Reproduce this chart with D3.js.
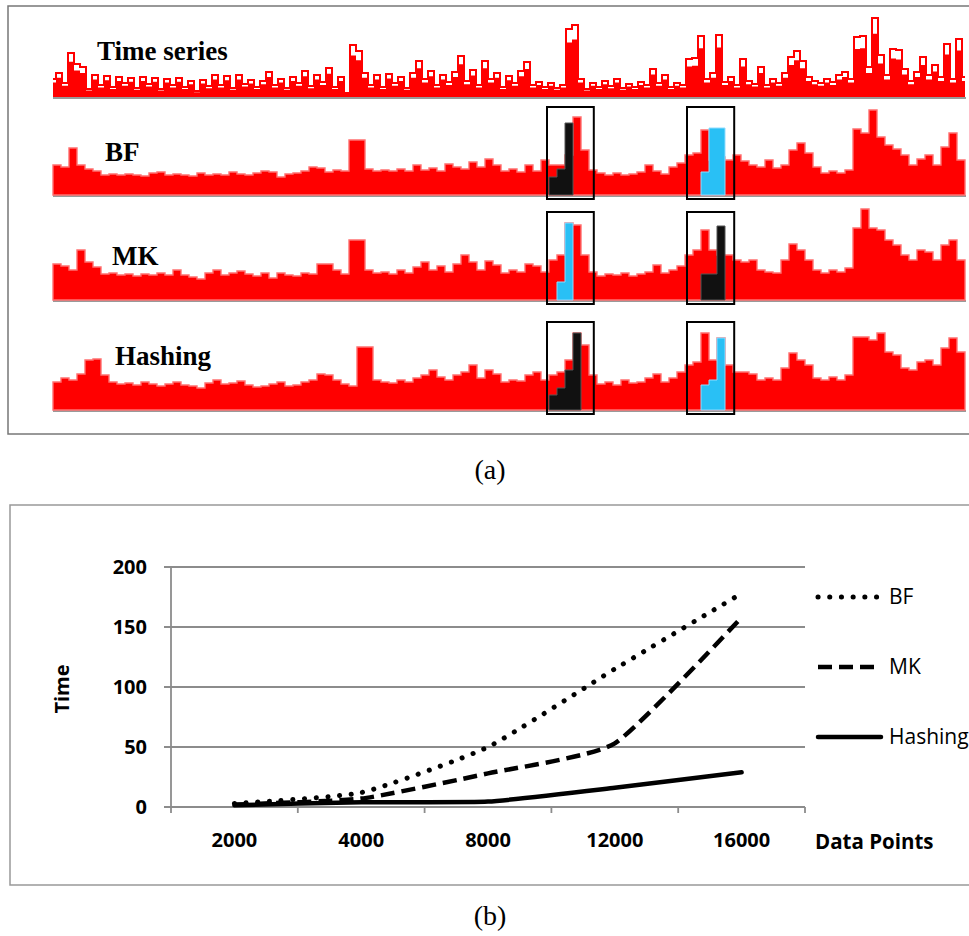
<!DOCTYPE html>
<html lang="en">
<head>
  <meta charset="UTF-8">
  <title>Anomaly detection: time series and run time</title>
  <script src="https://d3js.org/d3.v7.min.js"></script>
  <style>
    body {
      margin: 0;
      background: white;
    }
    svg {
      display: block;
    }
    .track-label {
      font-family: "Liberation Serif", "Times New Roman", serif;
      font-weight: bold;
      font-size: 27px;
    }
    .caption {
      font-family: "Liberation Serif", serif;
      font-size: 28px;
    }
    .chart text {
      font-family: "Open Sans", sans-serif;
    }
  </style>
</head>
<body>
<svg width="969" height="936"></svg>

<script>
  // ---- panel (a): raw series and the three detectors' outputs (height above baseline)
  const rawSeries = [18, 24, 14, 44, 33, 30, 8, 22, 12, 21, 10, 20, 14, 19, 9, 20, 13, 19, 8, 18,
    12, 19, 10, 16, 6, 17, 11, 22, 12, 21, 9, 22, 13, 17, 10, 16, 25, 12, 18, 9,
    20, 14, 26, 11, 22, 15, 29, 10, 20, 4, 52, 46, 24, 12, 22, 10, 23, 14, 20, 9,
    24, 36, 18, 26, 12, 22, 15, 25, 41, 16, 27, 12, 36, 18, 24, 10, 21, 14, 26, 35,
    12, 15, 10, 14, 9, 12, 68, 72, 18, 8, 14, 10, 16, 11, 18, 9, 13, 10, 15, 12,
    28, 14, 22, 10, 14, 12, 38, 39, 61, 18, 24, 62, 15, 20, 12, 38, 16, 13, 30, 12,
    18, 14, 24, 40, 46, 36, 20, 16, 14, 18, 15, 22, 25, 18, 60, 61, 30, 79, 42, 22,
    48, 47, 28, 16, 25, 40, 22, 32, 20, 53, 18, 58, 20];

  const bfSeries = [30, 28, 47, 30, 26, 24, 20, 21, 20, 21, 20, 19, 22, 23, 20, 21, 20, 19, 22, 20,
    21, 20, 23, 21, 20, 22, 24, 23, 18, 21, 22, 24, 28, 27, 23, 25, 24, 55, 55, 26,
    24, 25, 24, 26, 24, 30, 25, 27, 24, 31, 28, 26, 33, 28, 36, 30, 24, 26, 23, 30,
    24, 35, 30, 30, 40, 78, 45, 25, 22, 20, 22, 20, 21, 23, 30, 24, 21, 28, 32, 40,
    42, 65, 35, 38, 35, 40, 34, 30, 28, 35, 27, 30, 45, 52, 42, 28, 22, 24, 22, 25,
    66, 62, 85, 58, 50, 46, 40, 30, 36, 40, 30, 48, 62, 35, 30];

  const mkSeries = [36, 34, 30, 50, 38, 33, 26, 27, 25, 26, 24, 26, 25, 27, 25, 30, 25, 23, 21, 27,
    30, 25, 27, 29, 26, 24, 27, 22, 27, 25, 24, 27, 26, 36, 36, 30, 26, 60, 60, 30,
    27, 28, 26, 30, 27, 33, 38, 30, 34, 28, 36, 45, 38, 30, 39, 35, 27, 30, 28, 36,
    34, 28, 40, 45, 77, 75, 45, 28, 24, 26, 25, 27, 24, 26, 28, 35, 27, 30, 34, 45,
    50, 70, 50, 45, 45, 40, 38, 40, 30, 28, 27, 40, 56, 50, 40, 30, 27, 30, 28, 32,
    72, 91, 72, 70, 60, 55, 45, 40, 50, 48, 40, 55, 60, 40, 35];

  const hashSeries = [28, 32, 30, 36, 50, 51, 35, 28, 26, 27, 25, 28, 26, 24, 26, 28, 25, 24, 22, 27,
    30, 26, 27, 29, 25, 23, 24, 26, 28, 24, 25, 28, 30, 36, 35, 30, 26, 24, 63, 63,
    30, 28, 27, 30, 28, 32, 35, 40, 33, 30, 35, 38, 45, 32, 40, 36, 28, 30, 29, 35,
    38, 30, 35, 38, 50, 77, 65, 35, 26, 28, 25, 30, 27, 28, 32, 36, 28, 32, 38, 45,
    48, 77, 50, 72, 45, 38, 38, 36, 30, 32, 30, 42, 57, 50, 45, 32, 30, 33, 30, 35,
    73, 73, 70, 77, 58, 55, 42, 40, 48, 50, 45, 62, 72, 58, 40];

  const trackNames = ["Time series", "BF", "MK", "Hashing"];

  // detected anomalies: [track, first sample, values, kind]
  const detections = [
    ["BF", 62, [18, 26, 72], "black"],
    ["BF", 81, [23, 67, 67], "cyan"],
    ["MK", 63, [18, 77], "cyan"],
    ["MK", 81, [26, 26, 74], "black"],
    ["Hashing", 62, [15, 22, 40, 77], "black"],
    ["Hashing", 81, [25, 30, 72], "cyan"]
  ];
  // windows (in sample index) marked around the anomalies
  const anomalyWindows = [[61.75, 67.6], [79.25, 85.15]];

  // ---- panel (b): run time
  const dataPoints = ["2000", "4000", "8000", "12000", "16000"];
  const timeBF = [3, 12, 50, 115, 178];
  const timeMK = [2, 7, 28, 53, 158];
  const timeHashing = [1.5, 4, 4.5, 16, 29];
  const timeTicks = [0, 50, 100, 150, 200];

  const svg = d3.select("svg");

  // ================= (a)
  const panelA = svg.append("g");
  panelA.append("rect")
    .attr("x", 8).attr("y", 6)
    .attr("width", 980).attr("height", 428)
    .attr("fill", "none")
    .attr("stroke", "#777")
    .attr("stroke-width", 1.5);

  const tracks = [
    { name: "Time series", values: rawSeries, base: 97, labelX: 97, labelY: 60 },
    { name: "BF", values: bfSeries, base: 195, labelX: 105, labelY: 161 },
    { name: "MK", values: mkSeries, base: 300, labelX: 112, labelY: 265 },
    { name: "Hashing", values: hashSeries, base: 410, labelX: 115, labelY: 365 }
  ];

  const yTrack = d3.scaleLinear().domain([0, 100]).range([0, -100]);
  const xDet = d3.scaleLinear().domain([0, bfSeries.length - 1]).range([53, 965]);

  const stepPts = vals => vals.map((v, i) => [i, v]);

  tracks.forEach((t, k) => {
    const g = panelA.append("g").attr("transform", `translate(0,${t.base})`);
    const x = d3.scaleLinear().domain([0, t.values.length - 1]).range([53, 965]);

    g.append("line")
      .attr("x1", 53).attr("x2", 966)
      .attr("y1", 1).attr("y2", 1)
      .attr("stroke", "#9a9a9a")
      .attr("stroke-width", 2);

    if (k === 0) {
      // raw signal: dense spiky trace
      g.append("path")
        .datum(stepPts(t.values))
        .attr("fill", "#ff0000")
        .attr("d", d3.area().curve(d3.curveStep)
          .x(d => x(d[0])).y0(0).y1(d => yTrack(d[1] * 0.8)));
      g.append("path")
        .datum(stepPts(t.values))
        .attr("fill", "none")
        .attr("stroke", "#ff0000")
        .attr("stroke-width", 2)
        .attr("d", d3.line().curve(d3.curveStep)
          .x(d => x(d[0])).y(d => yTrack(d[1])));
    } else {
      g.append("path")
        .datum(stepPts(t.values))
        .attr("fill", "#ff0000")
        .attr("stroke", "#ff7070")
        .attr("stroke-width", 1.4)
        .attr("d", d3.area().curve(d3.curveStepAfter)
          .x(d => x(d[0])).y0(0).y1(d => yTrack(d[1])));

      detections.filter(d => d[0] === t.name).forEach(([, start, vals, kind]) => {
        const pts = vals.map((v, i) => [start + i, v]);
        pts.push([start + vals.length, vals[vals.length - 1]]);
        g.append("path")
          .datum(pts)
          .attr("fill", kind === "black" ? "#111" : "#29c0f5")
          .attr("stroke", kind === "black" ? "#555" : "#8fdcff")
          .attr("stroke-width", 1)
          .attr("d", d3.area().curve(d3.curveStepAfter)
            .x(d => xDet(d[0])).y0(0).y1(d => yTrack(d[1])));
      });

      anomalyWindows.forEach(w => {
        g.append("rect")
          .attr("x", xDet(w[0]))
          .attr("y", yTrack(88))
          .attr("width", xDet(w[1]) - xDet(w[0]))
          .attr("height", yTrack(-4) - yTrack(88))
          .attr("fill", "none")
          .attr("stroke", "#000")
          .attr("stroke-width", 2);
      });
    }

    panelA.append("text")
      .attr("class", "track-label")
      .attr("x", t.labelX)
      .attr("y", t.labelY)
      .text(trackNames[k]);
  });

  svg.append("text")
    .attr("class", "caption")
    .attr("x", 490).attr("y", 479)
    .attr("text-anchor", "middle")
    .text("(a)");

  // ================= (b)
  const panelB = svg.append("g").attr("class", "chart");
  panelB.append("rect")
    .attr("x", 10).attr("y", 505)
    .attr("width", 980).attr("height", 380)
    .attr("fill", "none")
    .attr("stroke", "#999")
    .attr("stroke-width", 1.5);

  const x = d3.scaleBand().domain(dataPoints).range([171, 805]);
  const y = d3.scaleLinear().domain([0, 200]).range([807, 567]);

  // gridlines
  panelB.append("g")
    .selectAll("line")
    .data(timeTicks)
    .join("line")
    .attr("x1", 164).attr("x2", 805)
    .attr("y1", d => y(d)).attr("y2", d => y(d))
    .attr("stroke", "#8c8c8c")
    .attr("stroke-width", 1.8);

  // y axis line
  panelB.append("line")
    .attr("x1", 171).attr("x2", 171)
    .attr("y1", y(200)).attr("y2", y(0) + 6)
    .attr("stroke", "#8c8c8c")
    .attr("stroke-width", 1.8);

  // category boundary ticks
  panelB.append("g")
    .selectAll("line")
    .data(dataPoints.slice(1).map(d => x(d)).concat([x.range()[1]]))
    .join("line")
    .attr("x1", d => d).attr("x2", d => d)
    .attr("y1", y(0)).attr("y2", y(0) + 6)
    .attr("stroke", "#8c8c8c")
    .attr("stroke-width", 1.8);

  const yAxis = panelB.append("g")
    .attr("transform", "translate(171,0)")
    .call(d3.axisLeft(y).tickValues(timeTicks).tickSize(0).tickPadding(24));
  const xAxis = panelB.append("g")
    .attr("transform", `translate(0,${y(0)})`)
    .call(d3.axisBottom(x).tickSize(0).tickPadding(26));
  [yAxis, xAxis].forEach(a => {
    a.select(".domain").remove();
    a.selectAll("text")
      .attr("font-family", "Open Sans")
      .attr("font-weight", "bold")
      .attr("font-size", 20)
      .attr("fill", "#000");
  });

  panelB.append("text")
    .attr("transform", "translate(69,689) rotate(-90)")
    .attr("text-anchor", "middle")
    .attr("font-weight", "bold")
    .attr("font-size", 20)
    .text("Time");

  panelB.append("text")
    .attr("x", 815).attr("y", 849)
    .attr("font-weight", "bold")
    .attr("font-size", 20.5)
    .text("Data Points");

  const series = [
    { name: "BF", values: timeBF, dash: "0.1 11.6", cap: "round", width: 5 },
    { name: "MK", values: timeMK, dash: "14 7", cap: "butt", width: 4.5 },
    { name: "Hashing", values: timeHashing, dash: null, cap: "round", width: 4.5 }
  ];

  const line = d3.line()
    .curve(d3.curveCardinal.tension(0.5))
    .x((d, i) => x(dataPoints[i]) + x.bandwidth() / 2)
    .y(d => y(d));

  series.forEach((s, i) => {
    panelB.append("path")
      .datum(s.values)
      .attr("fill", "none")
      .attr("stroke", "#000")
      .attr("stroke-width", s.width)
      .attr("stroke-linecap", s.cap)
      .attr("stroke-dasharray", s.dash)
      .attr("d", line);

    const ly = 597 + i * 70;
    panelB.append("line")
      .attr("x1", 818).attr("x2", 881)
      .attr("y1", ly).attr("y2", ly)
      .attr("stroke", "#000")
      .attr("stroke-width", s.width)
      .attr("stroke-linecap", s.cap)
      .attr("stroke-dasharray", s.dash);
    panelB.append("text")
      .attr("x", 889).attr("y", ly + 7)
      .attr("font-size", 21)
      .text(s.name);
  });

  svg.append("text")
    .attr("class", "caption")
    .attr("x", 490).attr("y", 925)
    .attr("text-anchor", "middle")
    .text("(b)");
</script>

</body>
</html>
